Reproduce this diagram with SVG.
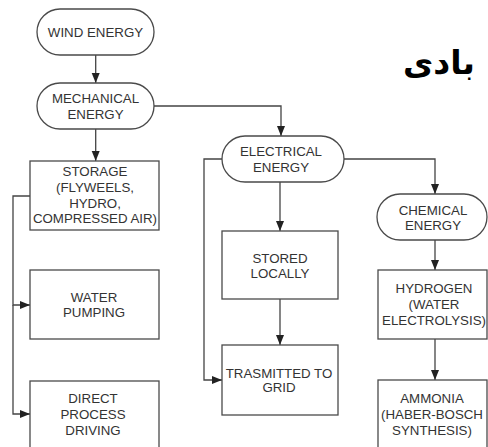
<svg xmlns="http://www.w3.org/2000/svg" width="488" height="447" viewBox="0 0 488 447">
<style>
.n{fill:#fff;stroke:#4a4a4a;stroke-width:1.3}
.t{font-family:"Liberation Sans",Arial,sans-serif;font-size:13.3px;fill:#333;text-anchor:middle}
.c{fill:none;stroke:#444;stroke-width:1.3}
.ar{font-family:"DejaVu Sans",sans-serif;font-weight:bold;font-size:33px;fill:#000}
</style>
<defs>
<marker id="a" markerUnits="userSpaceOnUse" markerWidth="10" markerHeight="10" viewBox="0 0 10 10" refX="10" refY="5" orient="auto">
<path d="M0,1 L10,5 L0,9 Z" fill="#222"/>
</marker>
</defs>
<rect width="488" height="447" fill="#fff"/>
<text class="ar" x="475" y="74" text-anchor="end">بادی</text>
<g id="connectors">
<path class="c" d="M95.7,55 V83" marker-end="url(#a)"/>
<path class="c" d="M95.7,129 V161" marker-end="url(#a)"/>
<path class="c" d="M154,106 H281 V136" marker-end="url(#a)"/>
<path class="c" d="M30,196 H13 V305 H30" marker-end="url(#a)"/>
<path class="c" d="M13,305 V414 H30" marker-end="url(#a)"/>
<path class="c" d="M280,182 V231" marker-end="url(#a)"/>
<path class="c" d="M280,299 V345" marker-end="url(#a)"/>
<path class="c" d="M222,159 H204 V380 H222" marker-end="url(#a)"/>
<path class="c" d="M344,159 H435 V194" marker-end="url(#a)"/>
<path class="c" d="M435,240 V270" marker-end="url(#a)"/>
<path class="c" d="M435,339 V380" marker-end="url(#a)"/>
</g>
<g id="wind">
<rect class="n" x="37" y="9" width="117" height="46" rx="23"/>
<text class="t" x="95.5" y="37">WIND ENERGY</text>
</g>
<g id="mechanical">
<rect class="n" x="37" y="83" width="117" height="46" rx="23"/>
<text class="t" x="95.5" y="103">MECHANICAL</text>
<text class="t" x="95.5" y="118.5">ENERGY</text>
</g>
<g id="storage">
<rect class="n" x="30" y="161" width="129" height="69"/>
<text class="t" x="95" y="175.7">STORAGE</text>
<text class="t" x="95" y="191.5">(FLYWEELS,</text>
<text class="t" x="95" y="207.5">HYDRO,</text>
<text class="t" x="95" y="223">COMPRESSED AIR)</text>
</g>
<g id="water">
<rect class="n" x="30" y="270" width="129" height="69"/>
<text class="t" x="94" y="301.7">WATER</text>
<text class="t" x="94" y="317">PUMPING</text>
</g>
<g id="direct">
<rect class="n" x="30" y="381" width="129" height="80"/>
<text class="t" x="93" y="403">DIRECT</text>
<text class="t" x="93" y="419">PROCESS</text>
<text class="t" x="93" y="434.5">DRIVING</text>
</g>
<g id="electrical">
<rect class="n" x="222" y="136" width="122" height="46" rx="23"/>
<text class="t" x="281" y="156">ELECTRICAL</text>
<text class="t" x="281" y="171.5">ENERGY</text>
</g>
<g id="stored">
<rect class="n" x="222" y="231" width="116" height="68"/>
<text class="t" x="280" y="263">STORED</text>
<text class="t" x="280" y="278">LOCALLY</text>
</g>
<g id="transmitted">
<rect class="n" x="222" y="345" width="116" height="70"/>
<text class="t" x="279" y="377.5">TRASMITTED TO</text>
<text class="t" x="279" y="392">GRID</text>
</g>
<g id="chemical">
<rect class="n" x="377" y="194" width="110" height="46" rx="23"/>
<text class="t" x="433" y="214.5">CHEMICAL</text>
<text class="t" x="433" y="230">ENERGY</text>
</g>
<g id="hydrogen">
<rect class="n" x="378" y="270" width="109" height="69"/>
<text class="t" x="434" y="293">HYDROGEN</text>
<text class="t" x="434" y="308.5">(WATER</text>
<text class="t" x="434" y="324.5">ELECTROLYSIS)</text>
</g>
<g id="ammonia">
<rect class="n" x="378" y="380" width="109" height="80"/>
<text class="t" x="432" y="403">AMMONIA</text>
<text class="t" x="432" y="418.5">(HABER-BOSCH</text>
<text class="t" x="432" y="434.5">SYNTHESIS)</text>
</g>
</svg>
